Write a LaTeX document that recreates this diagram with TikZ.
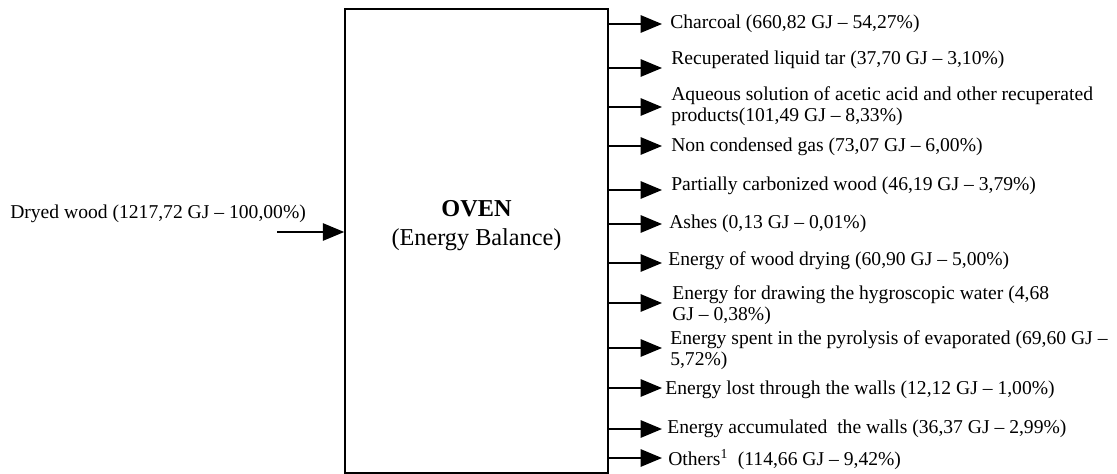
\documentclass[tikz,border=0pt]{standalone}
\usepackage{fontspec}
\setmainfont{Liberation Serif}
\usetikzlibrary{arrows.meta, positioning}

\begin{document}
\begin{tikzpicture}[x=0.75pt, y=-0.75pt,
    box/.style={draw, line width=1.2pt, minimum width=197.25pt, minimum height=348pt, inner sep=0pt},
    lbl/.style={anchor=west, inner sep=0pt, align=left, font=\fontsize{14.7}{15.9}\selectfont},
    arr/.style={line width=1.3pt, -{Triangle[length=16pt, width=13pt]}}]
    \useasboundingbox (0,0) rectangle (1117,474);

    \node[box] (oven) at (476.5,241) {};
    \node[align=center, font=\fontsize{18.2}{21.8}\selectfont] (title) at (476.5,226) {\textbf{OVEN}\\(Energy Balance)};

    \node[lbl] (dryed) at (10,214) {Dryed wood (1217,72 GJ -- 100,00\%)};
    \coordinate (src) at (277,232);

    \node[lbl] (charcoal) at (670,24) {Charcoal (660,82 GJ -- 54,27\%)};
    \node[lbl] (tar) at (671,60) {Recuperated liquid tar (37,70 GJ -- 3,10\%)};
    \node[lbl] (acid) at (671,106) {Aqueous solution of acetic acid and other recuperated\\products(101,49 GJ -- 8,33\%)};
    \node[lbl] (gas) at (671,147) {Non condensed gas (73,07 GJ -- 6,00\%)};
    \node[lbl] (wood) at (671,186) {Partially carbonized wood (46,19 GJ -- 3,79\%)};
    \node[lbl] (ashes) at (669,224) {Ashes (0,13 GJ -- 0,01\%)};
    \node[lbl] (drying) at (668,261) {Energy of wood drying (60,90 GJ -- 5,00\%)};
    \node[lbl] (water) at (672,305) {Energy for drawing the hygroscopic water (4,68\\GJ -- 0,38\%)};
    \node[lbl] (pyro) at (670,350) {Energy spent in the pyrolysis of evaporated (69,60 GJ --\\5,72\%)};
    \node[lbl] (lost) at (665,390) {Energy lost through the walls (12,12 GJ -- 1,00\%)};
    \node[lbl] (accum) at (667,429) {Energy accumulated\ \ the walls (36,37 GJ -- 2,99\%)};
    \node[lbl] (others) at (668,460) {Others\textsuperscript{1}\ \ (114,66 GJ -- 9,42\%)};

    % arrow tips
    \coordinate (t1) at (662,24);
    \coordinate (t2) at (662,68);
    \coordinate (t3) at (662,107);
    \coordinate (t4) at (662,146);
    \coordinate (t5) at (662,190);
    \coordinate (t6) at (662,224);
    \coordinate (t7) at (662,263);
    \coordinate (t8) at (662,303);
    \coordinate (t9) at (662,348);
    \coordinate (t10) at (662,388);
    \coordinate (t11) at (662,429);
    \coordinate (t12) at (662,458);

    \draw[arr] (src) -- (oven.west |- src);
    \draw[arr] (oven.east |- t1) -- (t1);
    \draw[arr] (oven.east |- t2) -- (t2);
    \draw[arr] (oven.east |- t3) -- (t3);
    \draw[arr] (oven.east |- t4) -- (t4);
    \draw[arr] (oven.east |- t5) -- (t5);
    \draw[arr] (oven.east |- t6) -- (t6);
    \draw[arr] (oven.east |- t7) -- (t7);
    \draw[arr] (oven.east |- t8) -- (t8);
    \draw[arr] (oven.east |- t9) -- (t9);
    \draw[arr] (oven.east |- t10) -- (t10);
    \draw[arr] (oven.east |- t11) -- (t11);
    \draw[arr] (oven.east |- t12) -- (t12);
\end{tikzpicture}
\end{document}
